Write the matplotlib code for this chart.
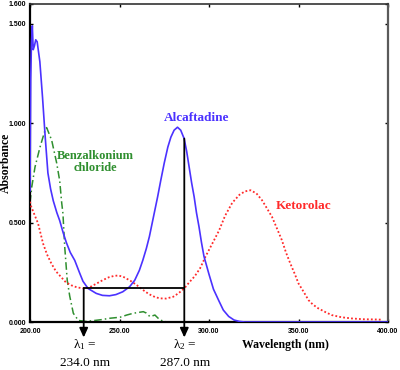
import matplotlib
matplotlib.use('Agg')
import matplotlib.pyplot as plt

plt.rcParams['mathtext.fontset'] = 'custom'
plt.rcParams['mathtext.rm'] = 'Liberation Serif'
plt.rcParams['mathtext.it'] = 'Liberation Serif:italic'

# Alcaftadine (blue, solid)
alc_wl = [200, 200.4, 200.8, 201.3, 201.8, 202.5, 203.2, 204, 205.5, 207, 208.5, 210,
          211.5, 213, 215, 216.6, 218.5, 220.3, 222.5, 225, 227.8, 229.6, 232.4, 237,
          240.5, 244.4, 248, 251.8, 255.6, 258.5, 261.1, 263, 265, 266.7, 269, 271.3,
          273, 275, 277, 278.7, 280.5, 282.4, 284.2, 286.1, 287.5, 288.9, 290.3, 291.7,
          293, 294.4, 295.8, 297.2, 300, 302.5, 305.6, 308, 311, 314, 317, 320, 400]
alc_abs = [0.66, 1.22, 1.40, 1.49, 1.37, 1.39, 1.42, 1.41, 1.31, 1.13, 0.93, 0.75,
           0.67, 0.61, 0.55, 0.51, 0.45, 0.40, 0.35, 0.31, 0.245, 0.205, 0.169, 0.144,
           0.134, 0.132, 0.138, 0.152, 0.177, 0.21, 0.26, 0.31, 0.37, 0.43, 0.53, 0.63,
           0.71, 0.80, 0.88, 0.93, 0.965, 0.98, 0.965, 0.923, 0.86, 0.78, 0.70, 0.63,
           0.55, 0.48, 0.40, 0.33, 0.24, 0.165, 0.105, 0.06, 0.028, 0.01, 0.003, 0.0, 0.0]

# Ketorolac (red, dotted)
ket_wl = [200, 200.7, 202.5, 204.5, 207.3, 209.5, 211.9, 214.5, 217.5, 220, 223, 226,
          229, 231, 234, 237.3, 240.5, 244, 247, 249.3, 252, 256, 259.6, 263, 266.5,
          270, 272.6, 276, 280, 283, 286.2, 289, 292, 295, 298.1, 301, 305.6, 309, 313,
          317, 320, 323.2, 326.5, 329.6, 332.5, 335.2, 338, 340.7, 343, 345.4, 348, 350,
          353, 355.6, 358, 361, 365, 368.5, 374, 379.6, 386, 392.6, 396]
ket_abs = [0.605, 0.58, 0.54, 0.496, 0.395, 0.34, 0.295, 0.255, 0.225, 0.20, 0.185, 0.175,
           0.17, 0.169, 0.178, 0.194, 0.21, 0.225, 0.232, 0.234, 0.228, 0.208, 0.186, 0.162, 0.14,
           0.125, 0.119, 0.118, 0.127, 0.145, 0.169, 0.20, 0.23, 0.27, 0.33, 0.38, 0.46, 0.535, 0.60,
           0.64, 0.657, 0.663, 0.647, 0.613, 0.57, 0.529, 0.47, 0.412, 0.35, 0.295, 0.24, 0.194,
           0.15, 0.11, 0.088, 0.069, 0.05, 0.035, 0.024, 0.018, 0.014, 0.013, 0.012]

# Benzalkonium chloride (green, dash-dot)
bzk_wl = [200, 201, 202.8, 205.6, 208.4, 209.3, 212.1, 214.9, 216.6, 217.7, 218.4, 219.4,
          220.8, 222.2, 224.2, 227, 231, 235.4, 240, 244.7, 250.3, 254, 257.7, 263.3, 265,
          267, 269.8, 272.6, 276.4, 400]
bzk_abs = [0.60, 0.68, 0.78, 0.88, 0.965, 0.978, 0.915, 0.80, 0.71, 0.60, 0.546, 0.378,
           0.21, 0.13, 0.044, 0.008, 0.003, 0.007, 0.012, 0.019, 0.024, 0.035, 0.044, 0.052, 0.045,
           0.027, 0.035, 0.01, 0.0, 0.0]

# isoabsorptive points (drawn positions and printed values)
lam_x = [230.0, 286.2]
lam_level = 0.169
lam2_top = 0.923
lam_names = ['λ$_{1}$ =', 'λ$_{2}$ =']
lam_texts = ['234.0 nm', '287.0 nm']

xticks = [200, 250, 300, 350, 400]
xtick_labels = ['200.00', '250.00', '300.00', '350.00', '400.00']
yticks = [0.0, 0.5, 1.0, 1.5, 1.6]
ytick_labels = ['0.000', '0.500', '1.000', '1.500', '1.600']

blue = '#4b32ff'
red = '#ff2a2a'
green = '#2f8f2f'
serif = 'Liberation Serif'

fig = plt.figure(figsize=(4, 3.7), dpi=100)
ax = fig.add_axes([0.075, 0.1297, 0.895, 0.8595])

ax.plot(bzk_wl, bzk_abs, color=green, linestyle=(0, (5, 2, 1, 2)), linewidth=1.1, zorder=2)
ax.plot(ket_wl, ket_abs, color=red, linestyle=(0, (1, 1.2)), linewidth=1.3, zorder=3)
ax.plot(alc_wl, alc_abs, color=blue, linewidth=1.2, zorder=4)

# horizontal connector and arrows
ax.plot(lam_x, [lam_level, lam_level], color='black', linewidth=1.3, zorder=5)
tops = [lam_level, lam2_top]
for x, top, name, txt in zip(lam_x, tops, lam_names, lam_texts):
    ax.annotate('', xy=(x, -0.078), xytext=(x, top), xycoords='data',
                arrowprops=dict(arrowstyle='-|>,head_width=0.25,head_length=0.55',
                                color='black', linewidth=1.3, shrinkA=0, shrinkB=0),
                annotation_clip=False, zorder=5)
    ax.text(x + 0.5, -0.116, name, ha='center', va='center', fontsize=9.5,
            family=serif, clip_on=False)
    ax.text(x + 0.5, -0.205, txt, ha='center', va='center', fontsize=9.5,
            family=serif, clip_on=False)

ax.text(293.1, 1.028, 'Alcaftadine', color=blue, fontsize=9.5, fontweight='bold',
        family=serif, ha='center', va='center')
ax.text(236.3, 0.807, 'Benzalkonium\nchloride', color=green, fontsize=9, fontweight='bold',
        family=serif, ha='center', va='center', linespacing=1.0)
ax.text(352.9, 0.583, 'Ketorolac', color=red, fontsize=9.5, fontweight='bold',
        family=serif, ha='center', va='center')
ax.text(342.5, -0.116, 'Wavelength (nm)', fontsize=8.5, fontweight='bold',
        family=serif, ha='center', va='center', clip_on=False)
fig.text(0.014, 0.56, 'Absorbance', rotation=90, fontsize=8.5, fontweight='bold',
         family=serif, ha='center', va='center')

ax.set_xlim(200, 400)
ax.set_ylim(0, 1.6)
ax.set_xticks(xticks)
ax.set_xticklabels(xtick_labels)
ax.set_yticks(yticks)
ax.set_yticklabels(ytick_labels)
ax.tick_params(direction='in', top=True, right=True, length=2.5, width=1,
               labelsize=5)
ax.tick_params(axis='x', pad=4)
ax.tick_params(axis='y', pad=3)
for lab in ax.get_xticklabels() + ax.get_yticklabels():
    lab.set_fontweight('bold')
    lab.set_family('Liberation Sans')

ax.spines['left'].set_linewidth(1.6)
ax.spines['bottom'].set_linewidth(1.6)
ax.spines['top'].set_linewidth(1.2)
ax.spines['right'].set_linewidth(1.6)
ax.spines['right'].set_color('#5a5a5a')
ax.spines['top'].set_color('#333333')

fig.savefig('out.png', dpi=100)
